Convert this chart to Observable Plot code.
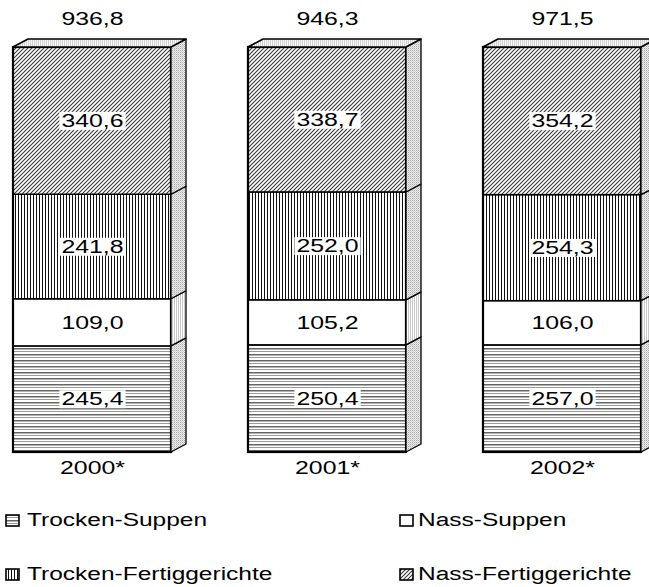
<!DOCTYPE html>
<html><head><meta charset="utf-8">
<script src="https://cdn.jsdelivr.net/npm/d3@7"></script>
<script src="https://cdn.jsdelivr.net/npm/@observablehq/plot@0.6"></script>
<style>
html,body{margin:0;padding:0;overflow:hidden;background:#fff;}
#wrap{position:relative;width:649px;height:587px;font-family:"Liberation Sans",Arial,sans-serif;}
.leg{position:absolute;height:22px;line-height:22px;font-size:18px;color:#000;white-space:nowrap;}
.leg svg{position:absolute;left:0;top:5px;}
.leg span{position:absolute;top:0;display:inline-block;transform:scaleX(1.36);transform-origin:0 50%;}
</style></head><body><div id="wrap"></div>
<script>
const years = ["2000*", "2001*", "2002*"];
const categories = ["Trocken-Suppen", "Nass-Suppen", "Trocken-Fertiggerichte", "Nass-Fertiggerichte"];
const trockenSuppen = [245.4, 250.4, 257.0];
const nassSuppen = [109.0, 105.2, 106.0];
const trockenFertig = [241.8, 252.0, 254.3];
const nassFertig = [340.6, 338.7, 354.2];
const totals = [936.8, 946.3, 971.5];

const series = [trockenSuppen, nassSuppen, trockenFertig, nassFertig];
const rows = [];
years.forEach((yr, i) => series.forEach((s, k) => rows.push({year: yr, category: categories[k], value: s[i]})));
const fmt = v => v.toFixed(1).replace(".", ",");

const frontFills = ["url(#pTS)", "#ffffff", "url(#pTF)", "url(#pNF)"];
const sideFills = ["url(#pSide)", "url(#pSideV)", "url(#pSide)", "url(#pSide)"];
const DX = 15, DY = 8, STRETCH = 1.38;
const NS = "http://www.w3.org/2000/svg";

function defs() {
  const d = document.createElementNS(NS, "defs");
  d.innerHTML = `
  <pattern id="pTS" width="6" height="6" patternUnits="userSpaceOnUse">
    <rect width="6" height="6" fill="#fff"/>
    <rect y="0" width="6" height="1.5" fill="#666"/>
    <rect y="3" width="6" height="1" fill="#9a9a9a"/>
  </pattern>
  <pattern id="pTF" width="3" height="3" patternUnits="userSpaceOnUse">
    <rect width="3" height="3" fill="#fff"/>
    <rect x="0" width="1" height="3" fill="#111"/>
  </pattern>
  <pattern id="pNF" width="4" height="4" patternUnits="userSpaceOnUse">
    <rect width="4" height="4" fill="#fff"/>
    <path d="M-1,1L1,-1M0,4L4,0M3,5L5,3" stroke="#333" stroke-width="1.05"/>
  </pattern>
  <pattern id="pSide" width="2" height="2" patternUnits="userSpaceOnUse">
    <rect width="2" height="2" fill="#ececec"/>
    <rect width="1" height="1" fill="#a8a8a8"/>
    <rect x="1" y="1" width="1" height="1" fill="#d0d0d0"/>
  </pattern>
  <pattern id="pSideV" width="2" height="2" patternUnits="userSpaceOnUse">
    <rect width="2" height="2" fill="#fff"/>
    <rect width="1" height="2" fill="#c8c8c8"/>
  </pattern>
  <pattern id="pTop" width="2" height="2" patternUnits="userSpaceOnUse">
    <rect width="2" height="2" fill="#fafafa"/>
    <rect width="1" height="2" fill="#cfcfcf"/>
  </pattern>`;
  return d;
}

function faces(index, scales) {
  const {x, y} = scales;
  const bw = x.bandwidth();
  const g = d3.create("svg:g").attr("aria-label", "faces");
  years.forEach((yr, i) => {
    const x1 = x(yr), x2 = x1 + bw;
    const vals = series.map(s => s[i]);
    const tot = d3.sum(vals);
    let c = 0;
    vals.forEach((v, k) => {
      const yb = y(c / tot), yt = y((c + v) / tot);
      c += v;
      g.append("path")
        .attr("d", `M${x2},${yb}L${x2 + DX},${yb - DY}L${x2 + DX},${yt - DY}L${x2},${yt}Z`)
        .attr("fill", sideFills[k]).attr("stroke", "#000").attr("stroke-width", 1.3).attr("stroke-linejoin", "round");
    });
    const yt = y(1);
    g.append("path")
      .attr("d", `M${x1},${yt}L${x1 + DX},${yt - DY}L${x2 + DX},${yt - DY}L${x2},${yt}Z`)
      .attr("fill", "url(#pTop)").attr("stroke", "#000").attr("stroke-width", 1.6).attr("stroke-linejoin", "round");
  });
  return g.node();
}

const plot = Plot.plot({
  width: 649,
  height: 490,
  marginTop: 47,
  marginBottom: 38,
  marginLeft: 12,
  marginRight: 8,
  style: {fontFamily: "'Liberation Sans', Arial, sans-serif", fontSize: "18px", background: "#fff", overflow: "hidden"},
  x: {domain: years, paddingInner: 0.329, paddingOuter: 0, axis: null},
  y: {domain: [0, 1], axis: null},
  color: {domain: categories, range: frontFills},
  marks: [
    defs,
    Plot.barY(rows, Plot.stackY({x: "year", y: "value", fill: "category", offset: "normalize", stroke: "#000", strokeWidth: 1.5, inset: 0})),
    Plot.barY(years, {x: d => d, y1: 0, y2: 1, fill: "none", stroke: "#000", strokeWidth: 2.2, inset: 0}),
    faces,
    Plot.text(rows, Plot.stackY({x: "year", y: "value", text: d => fmt(d.value), offset: "normalize", fill: "#000", fontSize: 18})),
    Plot.text(years, {x: d => d, y: 1, text: (d, i) => fmt(totals[i]), dy: -28, fill: "#000", fontSize: 18}),
    Plot.text(years, {x: d => d, y: 0, text: d => d, dy: 16, fill: "#000", fontSize: 18})
  ]
});

const wrap = document.getElementById("wrap");
wrap.appendChild(plot);

// horizontal stretch of all texts (the reference is widened), with white boxes behind segment values
const textGroups = Array.from(plot.querySelectorAll('g[aria-label="text"]'));
textGroups.forEach((grp, gi) => {
  Array.from(grp.querySelectorAll("text")).forEach(t => {
    const parent = t.parentNode;
    const r = t.getBoundingClientRect();
    const inv = parent.getScreenCTM().inverse();
    const p1 = plot.createSVGPoint(); p1.x = r.left; p1.y = r.top;
    const p2 = plot.createSVGPoint(); p2.x = r.right; p2.y = r.bottom;
    const a = p1.matrixTransform(inv), b = p2.matrixTransform(inv);
    const cx = (a.x + b.x) / 2;
    const g = document.createElementNS(NS, "g");
    g.setAttribute("transform", `translate(${cx},0) scale(${STRETCH},1) translate(${-cx},0)`);
    parent.insertBefore(g, t);
    if (gi === 0) {
      const box = document.createElementNS(NS, "rect");
      box.setAttribute("x", a.x - 1.5);
      box.setAttribute("y", a.y + 1);
      box.setAttribute("width", (b.x - a.x) + 3);
      box.setAttribute("height", (b.y - a.y) - 2);
      box.setAttribute("fill", "#fff");
      g.appendChild(box);
    }
    g.appendChild(t);
  });
});

// legend
const legendPos = [
  {left: 5, top: 509}, {left: 399, top: 509},
  {left: 5, top: 563}, {left: 399, top: 563}
];
const iconFills = ["url(#pTS)", "#ffffff", "url(#pTF)", "url(#pNF)"];
categories.forEach((c, k) => {
  const d = document.createElement("div");
  d.className = "leg";
  d.style.left = legendPos[k].left + "px";
  d.style.top = legendPos[k].top + "px";
  d.innerHTML = `<svg width="16" height="13"><rect x="1" y="1" width="13" height="11" fill="${iconFills[k]}" stroke="#000" stroke-width="1.6"/></svg><span style="left:${k % 2 ? 19 : 22}px">${c}</span>`;
  wrap.appendChild(d);
});
</script></body></html>
